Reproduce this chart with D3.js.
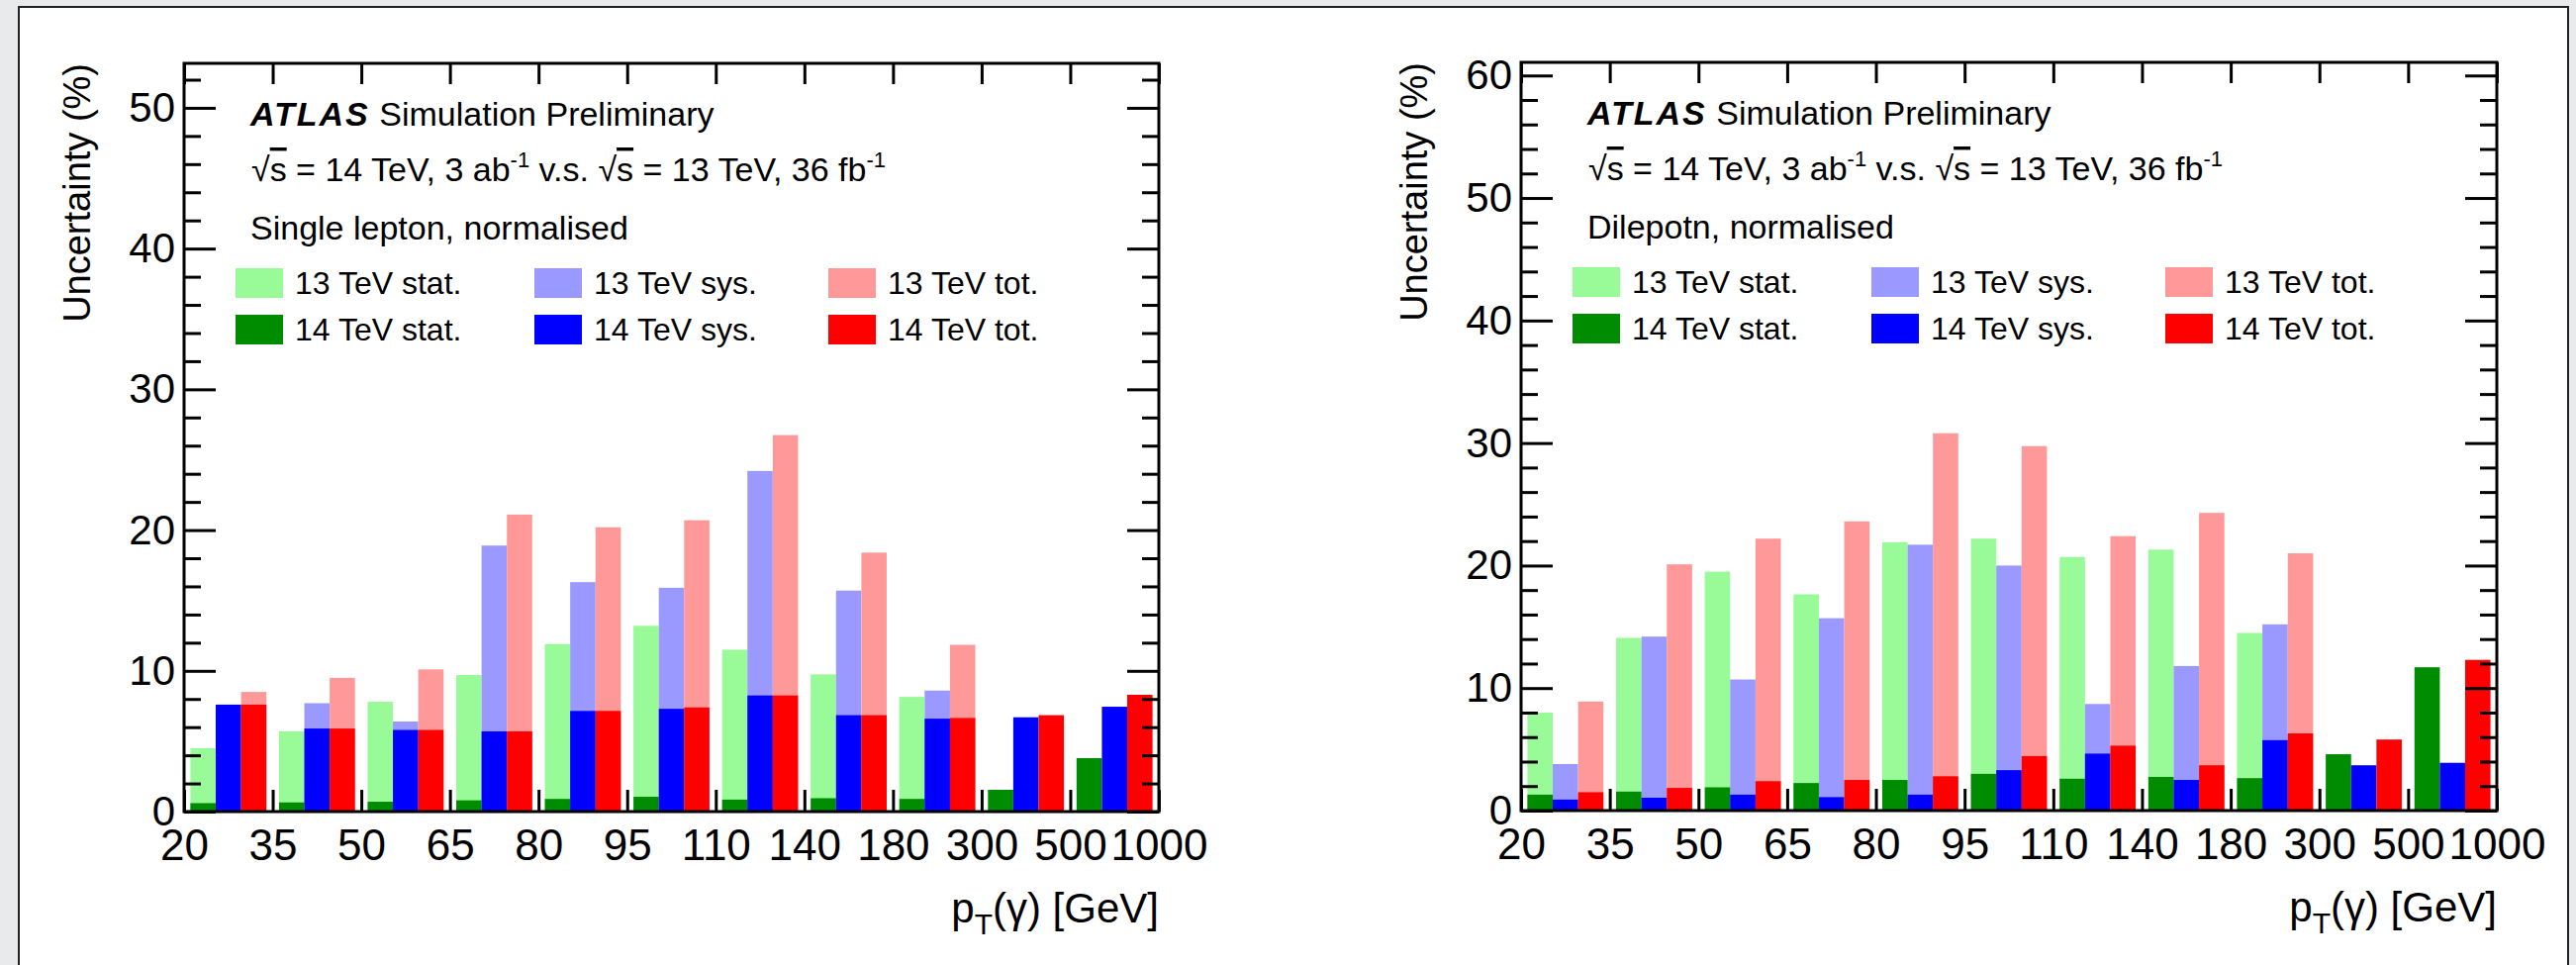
<!DOCTYPE html>
<html>
<head>
<meta charset="utf-8">
<script src="https://cdn.jsdelivr.net/npm/d3@7"></script>
<style>
  body { margin: 0; background: #e9eaec; }
  svg text { font-family: "Liberation Sans", Arial, Helvetica, sans-serif; fill: #000; }
</style>
</head>
<body>
<svg id="page" width="2603" height="975"></svg>
<script>
// bin edges of pT(gamma), drawn as equal-width bins
var binLabels = ["20", "35", "50", "65", "80", "95", "110", "140", "180", "300", "500", "1000"];

// single lepton, normalised (%)
var sl13Stat = [4.5, 5.7, 7.8, 9.7, 11.9, 13.2, 11.5, 9.75, 8.15, 0, 0];
var sl13Sys  = [7.5, 7.7, 6.4, 18.9, 16.3, 15.9, 24.2, 15.7, 8.6, 0, 0];
var sl13Tot  = [8.5, 9.5, 10.1, 21.1, 20.2, 20.7, 26.75, 18.4, 11.85, 0, 0];
var sl14Stat = [0.6, 0.65, 0.7, 0.8, 0.9, 1.05, 0.85, 0.95, 0.9, 1.55, 3.8];
var sl14Sys  = [7.6, 5.9, 5.8, 5.7, 7.15, 7.3, 8.25, 6.85, 6.6, 6.7, 7.45];
var sl14Tot  = [7.6, 5.9, 5.8, 5.7, 7.15, 7.4, 8.25, 6.85, 6.65, 6.85, 8.3];

// dilepton, normalised (%)
var dl13Stat = [8.0, 14.1, 19.5, 17.65, 21.9, 22.2, 20.7, 21.3, 14.5, 0, 0];
var dl13Sys  = [3.8, 14.2, 10.7, 15.7, 21.7, 20.0, 8.7, 11.8, 15.2, 0, 0];
var dl13Tot  = [8.9, 20.1, 22.2, 23.6, 30.8, 29.75, 22.4, 24.3, 21.0, 0, 0];
var dl14Stat = [1.3, 1.55, 1.9, 2.25, 2.5, 3.0, 2.6, 2.75, 2.65, 4.6, 11.7];
var dl14Sys  = [0.9, 1.05, 1.3, 1.1, 1.3, 3.3, 4.65, 2.5, 5.75, 3.7, 3.9];
var dl14Tot  = [1.5, 1.85, 2.4, 2.5, 2.8, 4.45, 5.3, 3.7, 6.3, 5.8, 12.3];

var kinds = ["stat", "sys", "tot"];
var legendNames = [["13 TeV stat.", "13 TeV sys.", "13 TeV tot."],
                   ["14 TeV stat.", "14 TeV sys.", "14 TeV tot."]];

var light = {stat: "#98fb98", sys: "#9999ff", tot: "#ff9999"};
var dark  = {stat: "#008c00", sys: "#0000ff", tot: "#ff0000"};

var svg = d3.select("#page");

// page card behind the two plots
svg.append("rect").attr("x", 0).attr("y", 0).attr("width", 2603).attr("height", 975).attr("fill", "#e9eaec");
svg.append("rect")
  .attr("x", 19).attr("y", 7).attr("width", 2576).attr("height", 1000)
  .attr("fill", "#fff").attr("stroke", "#222").attr("stroke-width", 2);

function draw_panel(opt)
{
  var width = opt.width, height = 756;
  var g = svg.append("g").attr("transform", "translate(" + opt.left + "," + opt.top + ")");

  var nbins = binLabels.length - 1;
  var xBin = d3.scaleBand().domain(d3.range(nbins)).range([0, width]);
  var xSub = d3.scaleBand().domain(kinds).range([0, xBin.bandwidth()]).paddingOuter(0.25);
  var xEdge = d3.scaleLinear().domain([0, nbins]).range([0, width]);
  var yScale = d3.scaleLinear().domain([0, opt.ymax]).range([height, 0]);

  // light (13 TeV) first, dark (14 TeV) over it
  [[opt.v13, light], [opt.v14, dark]].forEach(function(layer) {
    kinds.forEach(function(k, ki) {
      g.append("g").selectAll("rect")
        .data(layer[0][ki])
        .enter().append("rect")
        .attr("x", function(d, i) { return xBin(i) + xSub(k); })
        .attr("width", xSub.bandwidth())
        .attr("y", function(d) { return yScale(d); })
        .attr("height", function(d) { return height - yScale(d); })
        .attr("fill", layer[1][k]);
    });
  });

  var majors = d3.range(0, opt.ymax, 10);
  var minors = d3.range(0, opt.ymax, 2).filter(function(v) { return v % 10 != 0; });

  // y axis, left, ticks inward
  var yl = g.append("g").attr("class", "y axis")
    .call(d3.axisLeft(yScale).tickValues(majors).tickSizeInner(-32).tickSizeOuter(0).tickPadding(9));
  g.append("g")
    .call(d3.axisLeft(yScale).tickValues(minors).tickSizeInner(-17).tickSizeOuter(0).tickFormat(""));
  // mirrored on the right
  g.append("g").attr("transform", "translate(" + width + ",0)")
    .call(d3.axisRight(yScale).tickValues(majors).tickSizeInner(-32).tickSizeOuter(0).tickFormat(""));
  g.append("g").attr("transform", "translate(" + width + ",0)")
    .call(d3.axisRight(yScale).tickValues(minors).tickSizeInner(-17).tickSizeOuter(0).tickFormat(""));

  // x axis at bin edges
  g.append("g").attr("class", "x axis").attr("transform", "translate(0," + height + ")")
    .call(d3.axisBottom(xEdge).tickValues(d3.range(nbins + 1)).tickSizeInner(-22).tickSizeOuter(0)
      .tickPadding(18).tickFormat(function(d) { return binLabels[d]; }));
  g.append("g")
    .call(d3.axisTop(xEdge).tickValues(d3.range(nbins + 1)).tickSizeInner(-21).tickSizeOuter(0).tickFormat(""));

  g.selectAll(".domain").remove();
  g.selectAll(".tick line").attr("stroke", "#000").attr("stroke-width", 3);
  yl.selectAll("text").attr("font-size", 42);
  g.select(".x.axis").selectAll("text").attr("font-size", 44);

  // frame
  g.append("rect").attr("width", width).attr("height", height)
    .attr("fill", "none").attr("stroke", "#000").attr("stroke-width", 3);

  // axis titles
  g.append("text")
    .attr("transform", "translate(-95,0) rotate(-90)")
    .attr("text-anchor", "end").attr("font-size", 38)
    .text("Uncertainty (%)");

  var xt = g.append("text")
    .attr("x", width).attr("y", height + 112)
    .attr("text-anchor", "end").attr("font-size", 42);
  xt.append("tspan").text("p");
  xt.append("tspan").attr("font-size", 30).attr("dy", 12).text("T");
  xt.append("tspan").attr("dy", -12).text("(\u03b3) [GeV]");

  // labels
  var fs = 34;
  var t1 = g.append("text").attr("x", 67).attr("y", 63).attr("font-size", fs);
  t1.append("tspan").attr("font-weight", "bold").attr("font-style", "italic")
    .attr("letter-spacing", 2).text("ATLAS");
  t1.append("tspan").text(" Simulation Preliminary");

  var t2 = g.append("text").attr("x", 68).attr("y", 119).attr("font-size", fs);
  t2.append("tspan").text("\u221a");
  t2.append("tspan").style("text-decoration", "overline").text("s");
  t2.append("tspan").text(" = 14 TeV, 3 ab");
  t2.append("tspan").attr("font-size", 22).attr("dy", -14).text("-1");
  t2.append("tspan").attr("dy", 14).text(" v.s. \u221a");
  t2.append("tspan").style("text-decoration", "overline").text("s");
  t2.append("tspan").text(" = 13 TeV, 36 fb");
  t2.append("tspan").attr("font-size", 22).attr("dy", -14).text("-1");

  g.append("text").attr("x", 67).attr("y", 178).attr("font-size", fs).text(opt.channel);

  // legend, two rows of three
  var colX = [52, 354, 651];
  var rowY = [207, 254];
  [light, dark].forEach(function(pal, r) {
    kinds.forEach(function(k, c) {
      g.append("rect").attr("x", colX[c]).attr("y", rowY[r]).attr("width", 48).attr("height", 30)
        .attr("fill", pal[k]);
      g.append("text").attr("x", colX[c] + 60).attr("y", rowY[r] + 26).attr("font-size", 32)
        .text(legendNames[r][c]);
    });
  });
}

draw_panel({left: 186, top: 64, width: 985, ymax: 53.16, channel: "Single lepton, normalised",
  v13: [sl13Stat, sl13Sys, sl13Tot], v14: [sl14Stat, sl14Sys, sl14Tot]});
draw_panel({left: 1537, top: 63, width: 986, ymax: 61.07, channel: "Dilepotn, normalised",
  v13: [dl13Stat, dl13Sys, dl13Tot], v14: [dl14Stat, dl14Sys, dl14Tot]});
</script>
</body>
</html>
